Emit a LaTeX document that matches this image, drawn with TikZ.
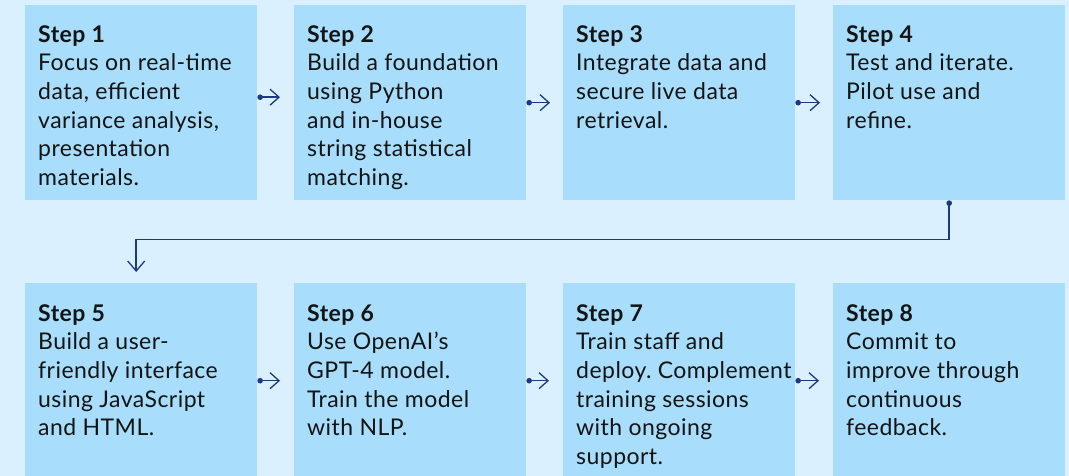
\documentclass[tikz,border=0pt]{standalone}
\usepackage{fontspec}
\setmainfont[LetterSpace=2.0]{Lato}
\usetikzlibrary{arrows.meta}
\definecolor{pagebg}{HTML}{DAF0FE}
\definecolor{boxfill}{HTML}{A8DDFC}
\definecolor{linkblue}{HTML}{1C3A80}
\definecolor{ink}{HTML}{141414}
\tikzset{
  stepbox/.style={rectangle, fill=boxfill, draw=none, inner sep=0pt,
    minimum width=232pt, anchor=north west},
  toprow/.style={minimum height=195pt},
  botrow/.style={minimum height=193pt},
  steptext/.style={anchor=north west, inner sep=0pt, align=left, text=ink,
    font=\fontsize{23}{28.7}\selectfont\frenchspacing},
  link/.style={draw=linkblue, line width=1.5pt,
    {Circle[length=5.5pt]}-{Straight Barb[length=9pt,width=16pt,line width=1.3pt]}},
  drop/.style={draw=linkblue, line width=1.5pt,
    {Circle[length=5.5pt]}-{Straight Barb[length=10pt,width=17pt,line width=1.3pt]}}
}
\begin{document}
\begin{tikzpicture}[x=1pt,y=-1pt]
  % page
  \fill[pagebg] (0,0) rectangle (1069,476);
  \useasboundingbox (0,0) rectangle (1069,476);

  % step boxes
  \node[stepbox,toprow] (s1) at (25,5) {};
  \node[stepbox,toprow] (s2) at (294,5) {};
  \node[stepbox,toprow] (s3) at (563,5) {};
  \node[stepbox,toprow] (s4) at (833,5) {};
  \node[stepbox,botrow] (s5) at (25,283) {};
  \node[stepbox,botrow] (s6) at (294,283) {};
  \node[stepbox,botrow] (s7) at (563,283) {};
  \node[stepbox,botrow] (s8) at (833,283) {};

  % step texts
  \node[steptext] (t1) at ([xshift=13pt,yshift=-20pt]s1.north west)
    {\textbf{Step 1}\\Focus on real-time\\data, efficient\\variance analysis,\\presentation\\materials.};
  \node[steptext] (t2) at ([xshift=13pt,yshift=-20pt]s2.north west)
    {\textbf{Step 2}\\Build a foundation\\using Python\\and in-house\\string statistical\\matching.};
  \node[steptext] (t3) at ([xshift=13pt,yshift=-20pt]s3.north west)
    {\textbf{Step 3}\\Integrate data and\\secure live data\\retrieval.};
  \node[steptext] (t4) at ([xshift=13pt,yshift=-20pt]s4.north west)
    {\textbf{Step 4}\\Test and iterate.\\Pilot use and\\refine.};
  \node[steptext] (t5) at ([xshift=13pt,yshift=-21pt]s5.north west)
    {\textbf{Step 5}\\Build a user-\\friendly interface\\using JavaScript\\and HTML.};
  \node[steptext] (t6) at ([xshift=13pt,yshift=-21pt]s6.north west)
    {\textbf{Step 6}\\Use OpenAI’s\\GPT-4 model.\\Train the model\\with NLP.};
  \node[steptext] (t7) at ([xshift=13pt,yshift=-21pt]s7.north west)
    {\textbf{Step 7}\\Train staff and\\deploy. Complement\\training sessions\\with ongoing\\support.};
  \node[steptext] (t8) at ([xshift=13pt,yshift=-21pt]s8.north west)
    {\textbf{Step 8}\\Commit to\\improve through\\continuous\\feedback.};

  % links along the top row
  \draw[link] ([yshift=5.5pt]s1.east) -- ([xshift=-14pt,yshift=5.5pt]s2.west);
  \draw[link] (s2.east) -- ([xshift=-13pt]s3.west);
  \draw[link] (s3.east) -- ([xshift=-13pt]s4.west);

  % wrap from step 4 down to step 5
  \draw[drop] (s4.south) -- ++(0,39) -| ([xshift=-5pt,yshift=11pt]s5.north);

  % links along the bottom row
  \draw[link] ([yshift=-1pt]s5.east) -- ([xshift=-14pt,yshift=-1pt]s6.west);
  \draw[link] ([yshift=-1pt]s6.east) -- ([xshift=-14pt,yshift=-1pt]s7.west);
  \draw[link] ([yshift=-1pt]s7.east) -- ([xshift=-14pt,yshift=-1pt]s8.west);
\end{tikzpicture}
\end{document}
